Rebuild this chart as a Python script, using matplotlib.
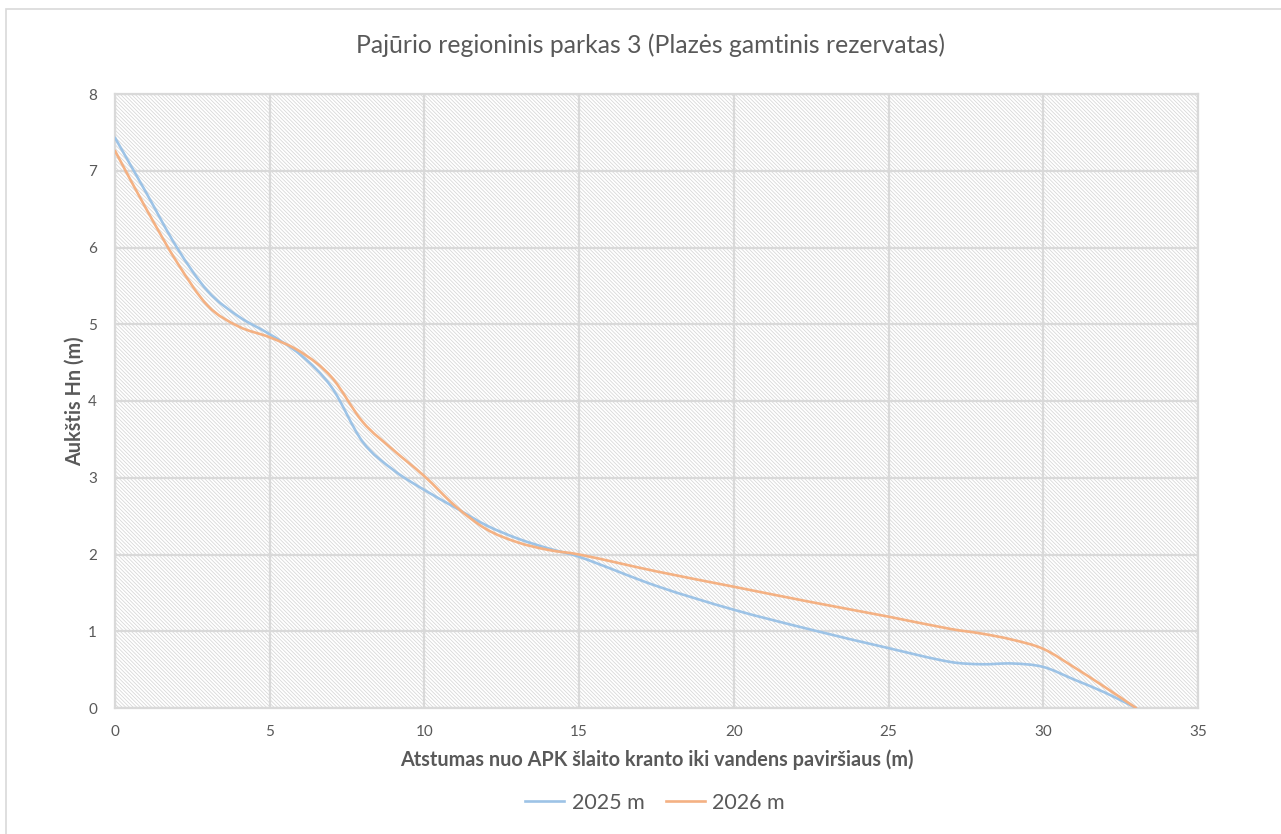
import matplotlib
matplotlib.use("Agg")
import matplotlib.pyplot as plt
from matplotlib.path import Path
from matplotlib.patches import PathPatch, Rectangle
from matplotlib.lines import Line2D

plt.rcParams['font.family'] = ['Lato', 'DejaVu Sans']
plt.rcParams['hatch.linewidth'] = 0.55

# ---- data ----
distance = [0, 1, 2, 3, 4, 5, 6, 7, 8, 9, 10, 11, 12, 13, 14, 15, 17.5, 20, 22.5,
            25, 27, 28, 29, 30, 31, 32, 33]
height_2025 = [7.43, 6.72, 6.00, 5.43, 5.10, 4.87, 4.60, 4.18, 3.47, 3.10, 2.84,
               2.61, 2.38, 2.21, 2.08, 1.97, 1.59, 1.28, 1.02, 0.78, 0.60, 0.57, 0.58,
               0.535, 0.37, 0.20, 0.0]
height_2026 = [7.26, 6.51, 5.81, 5.24, 4.97, 4.83, 4.64, 4.31, 3.73, 3.36, 3.02,
               2.63, 2.33, 2.16, 2.06, 2.00, 1.78, 1.58, 1.38, 1.19, 1.03, 0.97, 0.89,
               0.77, 0.53, 0.27, 0.0]
series_labels = ['2025 m', '2026 m']
x_ticks = [0, 5, 10, 15, 20, 25, 30, 35]
y_ticks = [0, 1, 2, 3, 4, 5, 6, 7, 8]

title = 'Pajūrio regioninis parkas 3 (Plazės gamtinis rezervatas)'
xlabel = 'Atstumas nuo APK šlaito kranto iki vandens paviršiaus (m)'
ylabel = 'Aukštis Hn (m)'

COL_2025 = '#9DC3E6'
COL_2026 = '#F4B183'
TXT = '#595959'
GRID = '#D9D9D9'


def smooth_path(xs, ys):
    """Smoothed line through the points (cubic Bezier segments, like Excel's smoothing)."""
    n = len(xs)
    slopes = []
    for i in range(n):
        a = max(i - 1, 0)
        b = min(i + 1, n - 1)
        slopes.append((ys[b] - ys[a]) / (xs[b] - xs[a]))
    verts = [(xs[0], ys[0])]
    codes = [Path.MOVETO]
    for i in range(n - 1):
        h = xs[i + 1] - xs[i]
        c1 = (xs[i] + h / 3.0, ys[i] + slopes[i] * h / 3.0)
        c2 = (xs[i + 1] - h / 3.0, ys[i + 1] - slopes[i + 1] * h / 3.0)
        verts += [c1, c2, (xs[i + 1], ys[i + 1])]
        codes += [Path.CURVE4, Path.CURVE4, Path.CURVE4]
    return Path(verts, codes)


fig = plt.figure(figsize=(12.81, 8.34), dpi=100)
fig.patch.set_facecolor('white')

# chart area border (extends past right/bottom edges like the reference crop)
fig.patches.append(Rectangle((6 / 1281, -0.05), 1.2, (834 - 9) / 834 + 0.05,
                             transform=fig.transFigure, fill=False,
                             edgecolor='#D9D9D9', linewidth=1.2))

ax = fig.add_axes([115 / 1281, (834 - 708) / 834, (1198 - 115) / 1281, (708 - 94) / 834])
ax.set_xlim(0, 35)
ax.set_ylim(0, 8)

# hatched plot-area background
ax.add_patch(Rectangle((0, 0), 1, 1, transform=ax.transAxes, facecolor='white',
                       edgecolor='#D6D6D6', hatch='\\' * 9, linewidth=0, zorder=0.2))

ax.set_axisbelow(True)
ax.grid(True, color=GRID, linewidth=1.6)
for s in ax.spines.values():
    s.set_color(GRID)
    s.set_linewidth(1.6)

ax.add_patch(PathPatch(smooth_path(distance, height_2025), fill=False,
                       edgecolor=COL_2025, linewidth=1.9, zorder=3,
                       capstyle='round', joinstyle='round'))
ax.add_patch(PathPatch(smooth_path(distance, height_2026), fill=False,
                       edgecolor=COL_2026, linewidth=1.9, zorder=4,
                       capstyle='round', joinstyle='round'))

ax.set_xticks(x_ticks)
ax.set_yticks(y_ticks)
ax.tick_params(length=0, labelsize=11, labelcolor=TXT)
ax.tick_params(axis='x', pad=12)
ax.tick_params(axis='y', pad=13)

ax.set_xlabel(xlabel, fontsize=14.3, fontweight='bold', color=TXT, va='center')
ax.xaxis.set_label_coords(0.5, (708 - 760) / 614)
ax.set_ylabel(ylabel, fontsize=14.3, fontweight='bold', color=TXT, va='center')
ax.yaxis.set_label_coords((75 - 115) / 1083, 0.5)

fig.text(650 / 1281, 1 - 45 / 834, title, ha='center', va='center',
         fontsize=17.8, color=TXT)

handles = [Line2D([], [], color=COL_2025, linewidth=1.9),
           Line2D([], [], color=COL_2026, linewidth=1.9)]
fig.legend(handles, series_labels, loc='center', bbox_to_anchor=(655 / 1281, 1 - 803 / 834),
           ncol=2, frameon=False, fontsize=15.5, labelcolor=TXT,
           handlelength=1.8, handletextpad=0.35, columnspacing=1.0)

fig.savefig('out.png', dpi=100, facecolor='white')
